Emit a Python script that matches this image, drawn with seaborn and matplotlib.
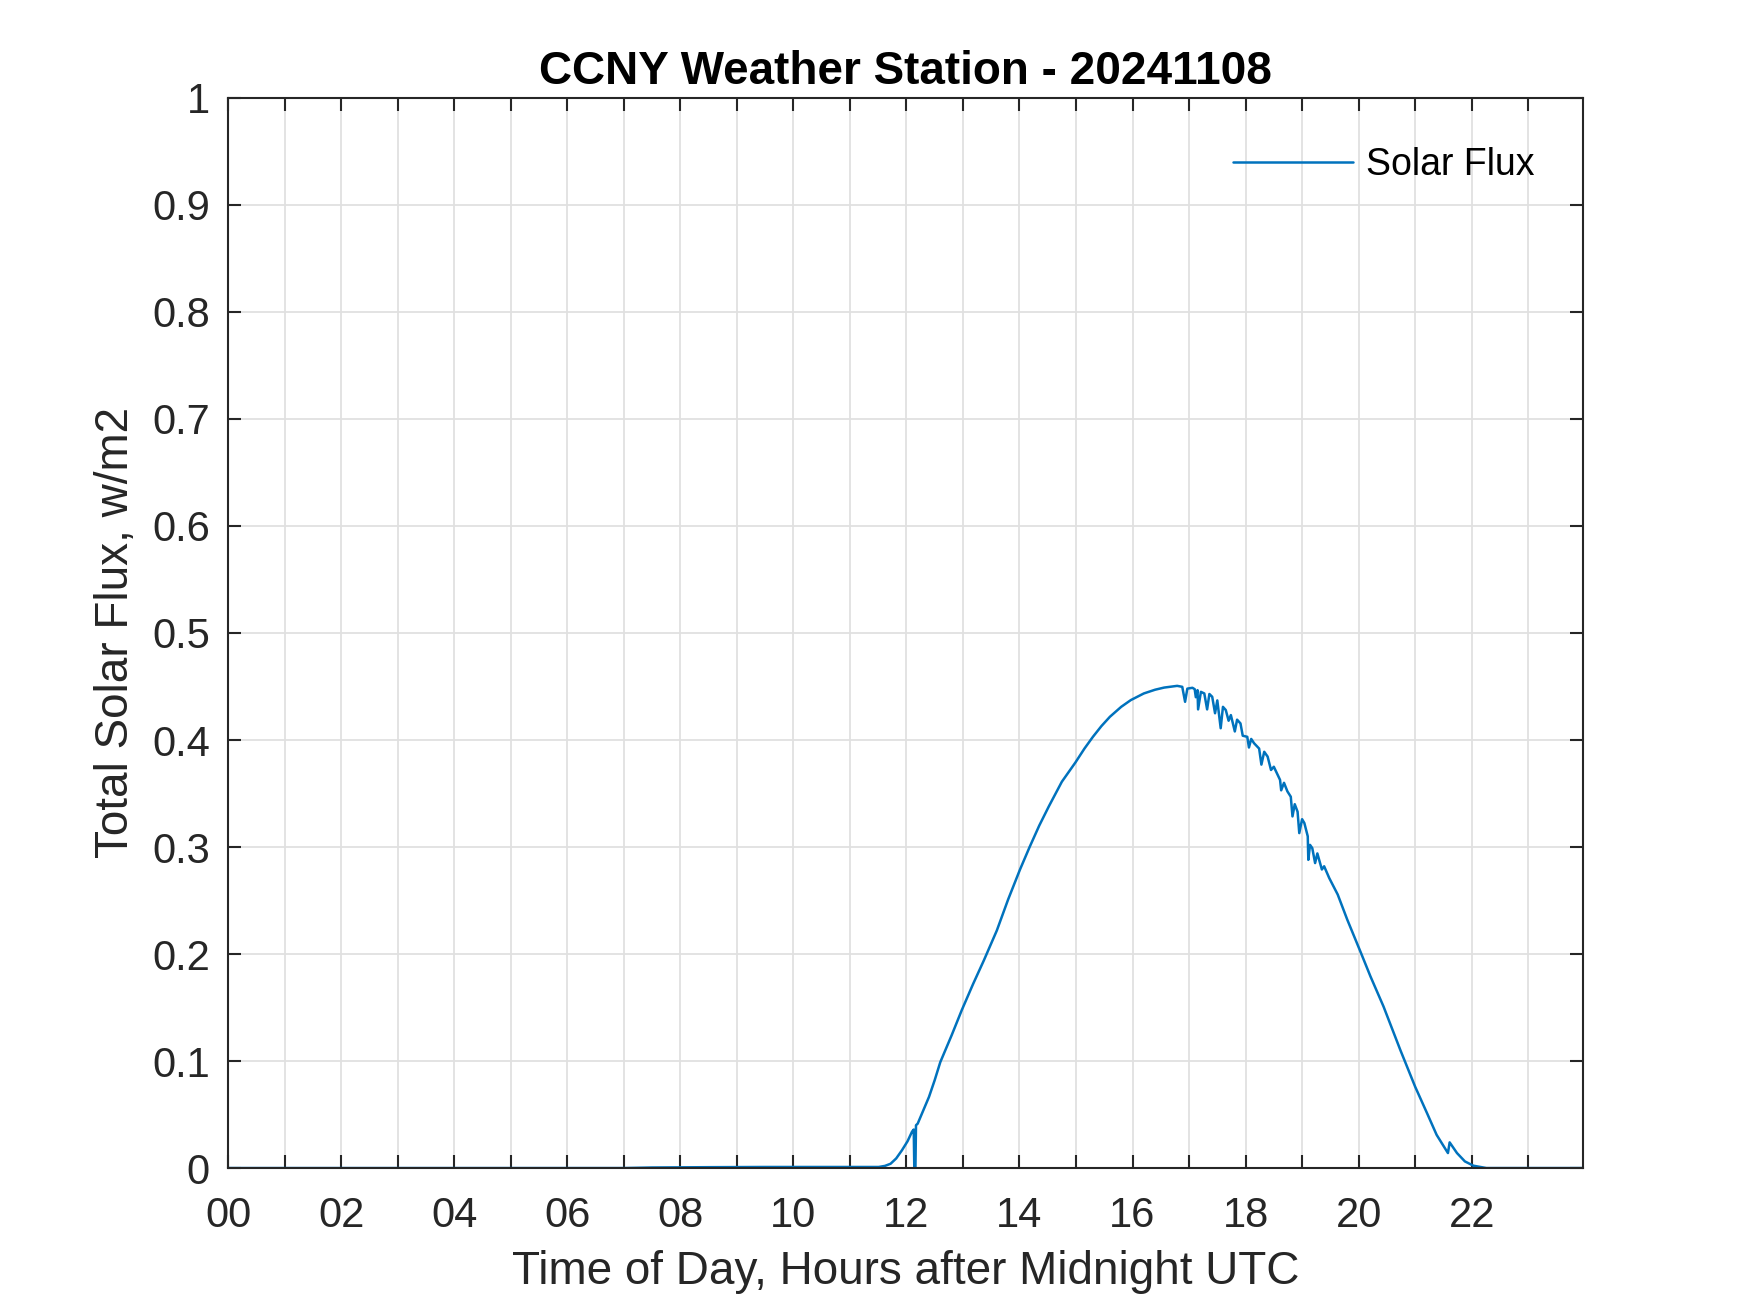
import numpy as np
import pandas as pd
import seaborn as sns
import matplotlib
matplotlib.use("Agg")
import matplotlib.pyplot as plt

# values (hours after midnight UTC, w/m2)
hours = [0.0, 7.0, 7.5, 8.5, 9.5, 10.5, 11.2, 11.51, 11.62, 11.72, 11.82, 11.92, 12.02,
         12.10, 12.13, 12.14, 12.16, 12.17, 12.20, 12.30, 12.40, 12.50, 12.60,
         12.80, 12.98, 13.18, 13.37, 13.60, 13.80, 14.01, 14.18, 14.35, 14.52,
         14.75, 14.99, 15.15, 15.30, 15.45, 15.60, 15.80, 15.97, 16.20, 16.40,
         16.56, 16.79, 16.88, 16.93, 16.97, 17.06, 17.10, 17.12, 17.15, 17.16,
         17.21, 17.27, 17.32, 17.36, 17.41, 17.46, 17.50, 17.56, 17.60, 17.65,
         17.70, 17.74, 17.81, 17.85, 17.91, 17.95, 18.03, 18.06, 18.10, 18.15,
         18.24, 18.28, 18.33, 18.39, 18.45, 18.50, 18.61, 18.63, 18.68, 18.74,
         18.80, 18.83, 18.87, 18.92, 18.95, 19.00, 19.04, 19.10, 19.11, 19.14,
         19.18, 19.23, 19.27, 19.35, 19.39, 19.48, 19.63, 19.80, 20.04, 20.21,
         20.44, 20.74, 21.00, 21.21, 21.38, 21.58, 21.61, 21.74, 21.88, 22.03,
         22.26, 23.97]
flux = [0.0, 0.0, 0.0005, 0.0008, 0.001, 0.001, 0.001, 0.001, 0.002, 0.004, 0.009, 0.0165, 0.025,
        0.034, 0.036, 0.0, 0.0, 0.040, 0.0415, 0.054, 0.0665, 0.082, 0.099,
        0.124, 0.1476, 0.172, 0.194, 0.222, 0.251, 0.279, 0.300, 0.320, 0.338,
        0.361, 0.379, 0.392, 0.403, 0.413, 0.4217, 0.431, 0.4373, 0.4435, 0.447,
        0.449, 0.4506, 0.4497, 0.4357, 0.448, 0.4488, 0.4475, 0.440, 0.4466, 0.4286,
        0.445, 0.4435, 0.4286, 0.443, 0.4404, 0.425, 0.437, 0.411, 0.431, 0.428,
        0.418, 0.4233, 0.408, 0.419, 0.4155, 0.404, 0.403, 0.393, 0.401, 0.397,
        0.392, 0.377, 0.389, 0.3845, 0.372, 0.375, 0.3627, 0.353, 0.360, 0.352,
        0.347, 0.3286, 0.340, 0.333, 0.313, 0.326, 0.3224, 0.310, 0.288, 0.302,
        0.299, 0.285, 0.294, 0.279, 0.282, 0.271, 0.2556, 0.232, 0.2012, 0.179,
        0.151, 0.110, 0.076, 0.0513, 0.031, 0.014, 0.024, 0.014, 0.0062, 0.0022,
        0.0, 0.0]

x_ticks = list(range(0, 24))
x_labels = [f"{h:02d}" if h % 2 == 0 else "" for h in x_ticks]
y_ticks = [round(0.1 * i, 1) for i in range(11)]
y_labels = [f"{v:g}" for v in y_ticks]

df = pd.DataFrame({"hour": hours, "flux": flux})

sns.set_theme(style="white")
plt.rcParams['font.family'] = ['Liberation Sans', 'DejaVu Sans']

fig = plt.figure(figsize=(17.5, 13.13), dpi=100)
ax = fig.add_axes([0.1303, 0.1104, 0.7743, 0.815])

sns.lineplot(data=df, x="hour", y="flux", ax=ax, color="#0072BD", linewidth=1.8,
             estimator=None, sort=False, label="Solar Flux")

ax.set_xlim(0, 23.97)
ax.set_ylim(0, 1)
ax.set_xticks(x_ticks)
ax.set_xticklabels(x_labels)
ax.set_yticks(y_ticks)
ax.set_yticklabels(y_labels)

ax.grid(True, color="#e0e0e0", linewidth=1.3)
ax.set_axisbelow(True)
for s in ax.spines.values():
    s.set_color("#262626")
    s.set_linewidth(1.5)
    s.set_visible(True)
ax.tick_params(direction="in", length=9.5, width=1.5, color="#262626",
               labelsize=30, labelcolor="#262626", top=True, right=True,
               bottom=True, left=True)
ax.tick_params(axis="x", pad=20)
ax.tick_params(axis="y", pad=13)

ax.set_xlabel("Time of Day, Hours after Midnight UTC", fontsize=33, color="#262626", labelpad=10)
ax.set_ylabel("Total Solar Flux, w/m2", fontsize=33, color="#262626", labelpad=10)
ax.set_title("CCNY Weather Station - 20241108", fontsize=33, fontweight="bold", color="black", pad=10)

leg = ax.legend(loc="upper right", frameon=False, fontsize=27, handlelength=3.2,
                handletextpad=0.35, borderaxespad=0.9)
for t in leg.get_texts():
    t.set_color("black")

fig.savefig("out.png", dpi=100)
